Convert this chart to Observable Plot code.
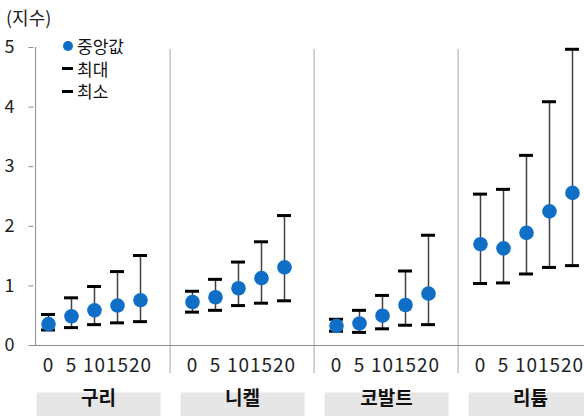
<!DOCTYPE html>
<html>
<head>
<meta charset="utf-8">
<script src="https://cdn.jsdelivr.net/npm/d3@7"></script>
<script src="https://cdn.jsdelivr.net/npm/@observablehq/plot@0.6"></script>
<style>
  body { margin: 0; background: #fff; }
  #wrap { position: relative; width: 584px; height: 416px; overflow: hidden;
          font-family: "Noto Sans CJK KR", "Noto Sans", sans-serif; color: #222; }
  #unit { position: absolute; left: 6px; top: 7px; font-size: 18px; line-height: 20px; }
  #legend { position: absolute; left: 62px; top: 35px; font-size: 17px; color: #111; }
  #legend .row { display: flex; align-items: center; height: 22.5px; }
  #legend .row span { line-height: 18px; }
  #legend .sw { width: 15px; display: flex; align-items: center; justify-content: flex-start; }
  #legend .dotsw { width: 10px; height: 10px; border-radius: 50%; margin-left: 1px; }
  #legend .dash { width: 11px; height: 3px; background: #000; }
  #chart g[aria-label="x-axis tick label"] text { letter-spacing: 1px; }
</style>
</head>
<body>
<div id="wrap">
  <div id="chart"></div>
  <div id="unit"></div>
  <div id="legend"></div>
</div>
<script>
// Categories
const metals = ["구리", "니켈", "코발트", "리튬"];
const periods = [0, 5, 10, 15, 20];
const unitLabel = "(지수)";
const legendLabels = ["중앙값", "최대", "최소"];

// Median / max / min index by period, one set per metal
const copperMid = [0.36, 0.49, 0.59, 0.67, 0.76];
const copperMax = [0.52, 0.80, 0.99, 1.24, 1.51];
const copperMin = [0.26, 0.30, 0.35, 0.38, 0.40];

const nickelMid = [0.73, 0.81, 0.96, 1.13, 1.31];
const nickelMax = [0.91, 1.11, 1.40, 1.74, 2.18];
const nickelMin = [0.56, 0.59, 0.67, 0.71, 0.75];

const cobaltMid = [0.33, 0.37, 0.50, 0.68, 0.87];
const cobaltMax = [0.44, 0.59, 0.84, 1.25, 1.85];
const cobaltMin = [0.24, 0.22, 0.28, 0.34, 0.35];

const lithiumMid = [1.70, 1.63, 1.89, 2.25, 2.56];
const lithiumMax = [2.54, 2.62, 3.19, 4.09, 4.97];
const lithiumMin = [1.04, 1.05, 1.20, 1.31, 1.34];

const yTicks = [0, 1, 2, 3, 4, 5];

const blue = "#0F6FC6";

const series = [
  [copperMid, copperMax, copperMin],
  [nickelMid, nickelMax, nickelMin],
  [cobaltMid, cobaltMax, cobaltMin],
  [lithiumMid, lithiumMax, lithiumMin]
];
const rows = metals.flatMap((metal, i) =>
  periods.map((period, j) => ({
    metal, period,
    mid: series[i][0][j], max: series[i][1][j], min: series[i][2][j]
  }))
);

const fontFamily = '"Noto Sans CJK KR", "Noto Sans", sans-serif';

const chart = Plot.plot({
  width: 584,
  height: 416,
  marginTop: 47,
  marginBottom: 71,
  marginLeft: 24,
  marginRight: -16,
  style: { fontFamily, fontSize: "18px", color: "#222", background: "transparent", overflow: "hidden" },
  fx: { domain: metals, padding: 0, axis: null },
  x: { domain: periods, paddingInner: 0.41, paddingOuter: 0.737, align: 0.44, axis: null },
  y: { domain: [0, 5], axis: null },
  marks: [
    // grey label boxes under each group
    Plot.frame({ fill: "#e7e6e6", stroke: null, insetTop: 345, insetBottom: -71, insetLeft: 12, insetRight: 8 }),
    Plot.text(metals, {
      fx: d => d, text: d => d, frameAnchor: "bottom", dy: 59, dx: 2,
      fontWeight: "bold", fontSize: 19, fill: "#111"
    }),
    // group separators
    Plot.ruleX(metals.slice(1), {
      fx: d => d, x: () => periods[0], dx: -22.4, insetTop: 2, insetBottom: -28,
      stroke: "#a6a6a6", strokeWidth: 1
    }),
    // value axis line
    Plot.ruleX(metals.slice(0, 1), {
      fx: d => d, x: () => periods[0], dx: -12.9, stroke: "#8c8c8c", strokeWidth: 1
    }),
    // category axis line
    Plot.ruleY(metals.slice(0, 1), { fx: d => d, y: () => 0, insetLeft: 5, stroke: "#8c8c8c" }),
    Plot.ruleY(metals.slice(1), { fx: d => d, y: () => 0, stroke: "#8c8c8c" }),
    Plot.axisY({
      ticks: yTicks, tickSize: 5, tickPadding: 14.5, dx: 9.5, label: null,
      stroke: "#8c8c8c", fill: "#222", fontSize: 18, tickFormat: d => d
    }),
    Plot.axisX({ tickSize: 0, tickPadding: 13, dx: 0, label: null, fill: "#222", fontSize: 19 }),
    // min–max ranges
    Plot.ruleX(rows, { fx: "metal", x: "period", y1: "min", y2: "max", stroke: "#404040", strokeWidth: 1.5 }),
    Plot.tickY(rows, { fx: "metal", x: "period", y: "max", stroke: "#000", strokeWidth: 3 }),
    Plot.tickY(rows, { fx: "metal", x: "period", y: "min", stroke: "#000", strokeWidth: 3 }),
    // medians
    Plot.dot(rows, { fx: "metal", x: "period", y: "mid", r: 7.3, fill: blue, stroke: null })
  ]
});
document.getElementById("chart").append(chart);

document.getElementById("unit").textContent = unitLabel;

const legend = document.getElementById("legend");
legendLabels.forEach((label, i) => {
  const row = document.createElement("div");
  row.className = "row";
  const sw = document.createElement("span");
  sw.className = "sw";
  const mark = document.createElement("span");
  if (i === 0) { mark.className = "dotsw"; mark.style.background = blue; }
  else mark.className = "dash";
  sw.append(mark);
  const txt = document.createElement("span");
  txt.textContent = label;
  row.append(sw, txt);
  legend.append(row);
});
</script>
</body>
</html>
